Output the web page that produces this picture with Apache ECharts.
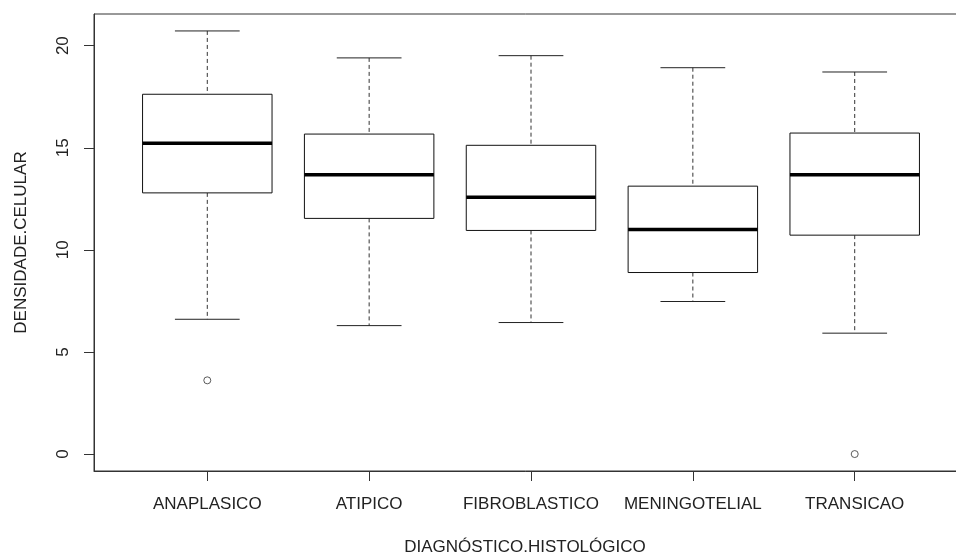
<!DOCTYPE html>
<html>
<head>
<meta charset="utf-8">
<script src="https://cdn.jsdelivr.net/npm/echarts@6/dist/echarts.min.js"></script>
<style>
  html, body { margin: 0; padding: 0; background: #fff; }
  #chart { width: 956px; height: 554px; }
</style>
</head>
<body>
<div id="chart"></div>
<script>
// categories and five-number summaries
const categories = ['ANAPLASICO', 'ATIPICO', 'FIBROBLASTICO', 'MENINGOTELIAL', 'TRANSICAO']
const lowWhisker = [6.60, 6.29, 6.44, 7.47, 5.92]
const q1 = [12.79, 11.54, 10.95, 8.89, 10.72]
const median = [15.22, 13.68, 12.57, 11.00, 13.68]
const q3 = [17.62, 15.67, 15.12, 13.12, 15.72]
const highWhisker = [20.72, 19.40, 19.51, 18.92, 18.71]
// outliers: [category index (1-based), value]
const outliers = [[1, 3.61], [5, 0]]
const yTicks = [0, 5, 10, 15, 20]
const xTicks = [1, 2, 3, 4, 5]

const font = 'Liberation Sans, Arial, sans-serif'
const boxWidth = 0.8

const boxData = categories.map((c, i) => [i + 1, lowWhisker[i], q1[i], median[i], q3[i], highWhisker[i]])

const renderBox = (params, api) => {
  const x = api.value(0)
  const lo = api.coord([x, api.value(1)])
  const b1 = api.coord([x, api.value(2)])
  const md = api.coord([x, api.value(3)])
  const b3 = api.coord([x, api.value(4)])
  const hi = api.coord([x, api.value(5)])
  const bw = api.size([boxWidth, 0])[0]
  const cx = lo[0]
  const dashed = { stroke: '#333', lineWidth: 1, lineDash: [4, 3] }
  const solid = { stroke: '#222', lineWidth: 1 }
  return {
    type: 'group',
    children: [
      { type: 'line', shape: { x1: cx, y1: hi[1], x2: cx, y2: b3[1] }, style: dashed },
      { type: 'line', shape: { x1: cx, y1: b1[1], x2: cx, y2: lo[1] }, style: dashed },
      { type: 'line', shape: { x1: cx - bw / 4, y1: hi[1], x2: cx + bw / 4, y2: hi[1] }, style: solid },
      { type: 'line', shape: { x1: cx - bw / 4, y1: lo[1], x2: cx + bw / 4, y2: lo[1] }, style: solid },
      { type: 'rect', shape: { x: cx - bw / 2, y: b3[1], width: bw, height: b1[1] - b3[1] },
        style: { fill: '#fff', stroke: '#111', lineWidth: 1 } },
      { type: 'line', shape: { x1: cx - bw / 2, y1: md[1], x2: cx + bw / 2, y2: md[1] },
        style: { stroke: '#000', lineWidth: 3.5 } }
    ]
  }
}

const myChart = echarts.init(document.getElementById('chart'))
const option = {
  backgroundColor: '#fff',
  animation: false,
  grid: {
    left: 94,
    top: 14,
    width: 874,
    height: 457,
    outerBoundsMode: 'none',
    containLabel: false,
    show: true,
    borderColor: '#333',
    borderWidth: 1,
    backgroundColor: 'transparent'
  },
  xAxis: {
    type: 'value',
    min: 0.3,
    max: 5.7,
    name: 'DIAGNÓSTICO.HISTOLÓGICO',
    nameLocation: 'middle',
    nameGap: 68,
    nameTextStyle: { fontFamily: font, fontSize: 17, color: '#222', padding: [0, 12, 0, 0] },
    axisLine: { show: true, onZero: false, lineStyle: { color: '#333' } },
    axisTick: { show: true, length: 10, lineStyle: { color: '#333' }, customValues: xTicks },
    axisLabel: {
      fontFamily: font, fontSize: 17, color: '#222', margin: 25,
      customValues: xTicks,
      formatter: v => categories[Math.round(v) - 1] || ''
    },
    splitLine: { show: false }
  },
  yAxis: {
    type: 'value',
    min: -0.83,
    max: 21.55,
    name: 'DENSIDADE.CELULAR',
    nameLocation: 'middle',
    nameGap: 64,
    nameTextStyle: { fontFamily: font, fontSize: 17, color: '#222' },
    axisLine: { show: true, onZero: false, lineStyle: { color: '#333' } },
    axisTick: { show: true, length: 10, lineStyle: { color: '#333' }, customValues: yTicks },
    axisLabel: {
      fontFamily: font, fontSize: 17, color: '#222', margin: 22, rotate: 90,
      customValues: yTicks
    },
    splitLine: { show: false }
  },
  series: [
    {
      type: 'custom',
      renderItem: renderBox,
      encode: { x: 0, y: [1, 2, 3, 4, 5] },
      data: boxData
    },
    {
      type: 'scatter',
      symbol: 'circle',
      symbolSize: 7,
      itemStyle: { color: '#fff', borderColor: '#333', borderWidth: 1 },
      data: outliers
    }
  ]
}

option && myChart.setOption(option)
</script>
</body>
</html>
